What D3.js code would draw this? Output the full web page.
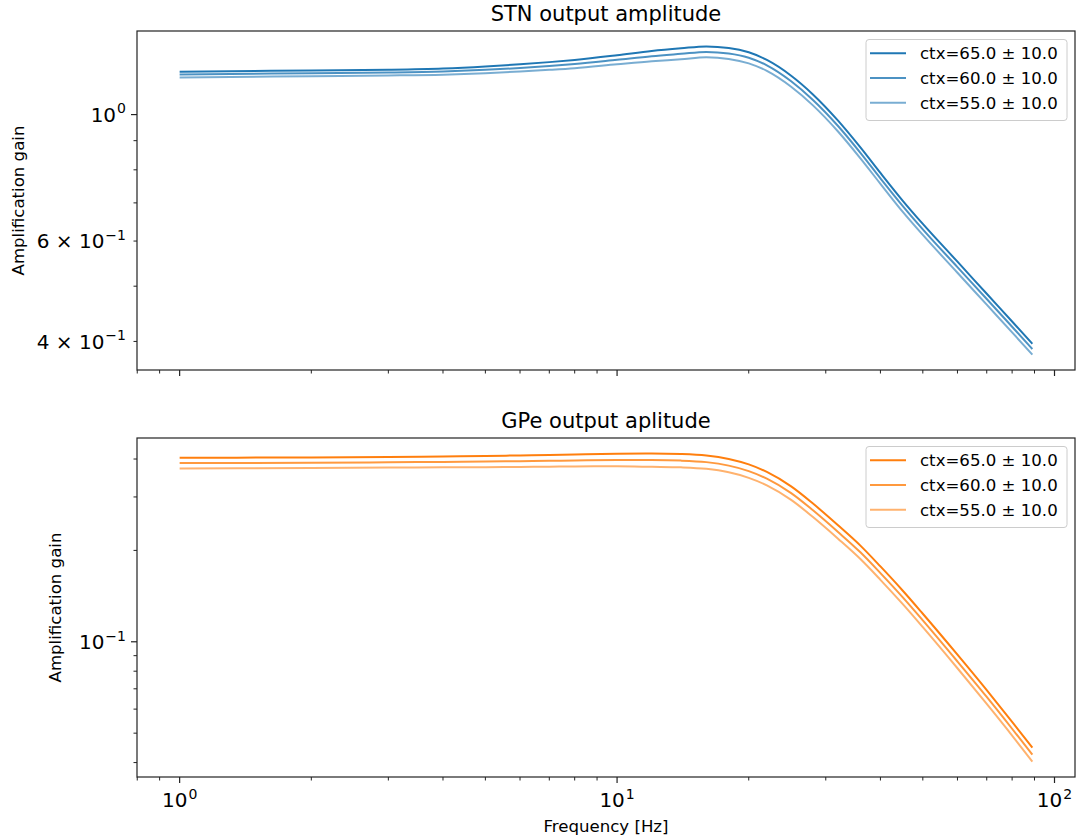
<!DOCTYPE html>
<html><head><meta charset="utf-8">
<script src="https://cdn.jsdelivr.net/npm/d3@7"></script>
<style>body{margin:0;background:#fff} text{font-family:"DejaVu Sans",sans-serif;fill:#000}</style>
</head><body><svg id="chart" width="1077" height="840"></svg>
<script>
// ---- data ----
const freqs = [1,2,3,4,5,6,7,8,10,12,14,16,18,20,22,25,28,32,36,40,45,50,60,70,80,89];
const stn65 = [1.189,1.195,1.198,1.204,1.214,1.225,1.236,1.247,1.271,1.293,1.307,1.317,1.309,1.286,1.247,1.170,1.086,0.976,0.876,0.790,0.706,0.643,0.552,0.4849,0.4335,0.3963];
const stn60 = [1.176,1.182,1.185,1.190,1.198,1.207,1.217,1.227,1.248,1.266,1.278,1.288,1.280,1.258,1.220,1.144,1.062,0.955,0.857,0.773,0.691,0.629,0.540,0.4747,0.4244,0.3880];
const stn55 = [1.162,1.168,1.171,1.175,1.182,1.190,1.198,1.206,1.225,1.240,1.250,1.260,1.252,1.230,1.193,1.119,1.039,0.934,0.838,0.756,0.675,0.615,0.528,0.4640,0.4149,0.3793];
const gpe65 = [0.4039,0.4049,0.4064,0.4080,0.4095,0.4111,0.4126,0.4142,0.4164,0.4174,0.4158,0.4111,0.4003,0.3840,0.3626,0.3249,0.2858,0.2420,0.2074,0.1771,0.1473,0.1237,0.0907,0.0693,0.0545,0.0448];
const gpe60 = [0.3880,0.3889,0.3903,0.3914,0.3924,0.3935,0.3946,0.3957,0.3969,0.3967,0.3952,0.3907,0.3804,0.3650,0.3446,0.3088,0.2716,0.2300,0.1971,0.1683,0.1400,0.1176,0.0861,0.0658,0.0517,0.0425];
const gpe55 = [0.3726,0.3736,0.3749,0.3756,0.3761,0.3768,0.3774,0.3781,0.3784,0.3770,0.3755,0.3713,0.3616,0.3468,0.3275,0.2934,0.2581,0.2186,0.1873,0.1600,0.1330,0.1117,0.0818,0.0624,0.0491,0.0403];
const seriesLabels = ["ctx=65.0 \u00b1 10.0","ctx=60.0 \u00b1 10.0","ctx=55.0 \u00b1 10.0"];
const panelTitles = ["STN output amplitude","GPe output aplitude"];
const xMajorTicks = [1,10,100];
const xTickLabels = [["10","0"],["10","1"],["10","2"]];
const stnYTicks = [0.4,0.6,1];
const stnYTickLabels = [["4 \u00d7 10","\u22121"],["6 \u00d7 10","\u22121"],["10","0"]];
const gpeYTicks = [0.1];
const gpeYTickLabels = [["10","\u22121"]];
const yLabel = "Amplification gain";
const xLabel = "Frequency [Hz]";

// ---- layout ----
const svg = d3.select("#chart");
const L = 137, R = 1075;
const opac = [1, 0.8, 0.6];
function padLog(ext){const a=Math.log10(ext[0]),b=Math.log10(ext[1]),p=(b-a)*0.05;return [10**(a-p),10**(b+p)];}
const x = d3.scaleLog().domain(padLog(d3.extent(freqs))).range([L,R]);

const panels = [
  {top:31,bottom:370,series:[stn65,stn60,stn55],color:"#1f77b4",yt:stnYTicks,ytl:stnYTickLabels,ylx:18,xlabels:false,title:panelTitles[0]},
  {top:438,bottom:777,series:[gpe65,gpe60,gpe55],color:"#ff7f0e",yt:gpeYTicks,ytl:gpeYTickLabels,ylx:55,xlabels:true,title:panelTitles[1]}
];

function minorTicks(dom, exclude){
  const out=[];
  const e0=Math.floor(Math.log10(dom[0])), e1=Math.ceil(Math.log10(dom[1]));
  for(let e=e0;e<=e1;e++) for(let k=1;k<=9;k++){
    const v=k*10**e;
    if(v>=dom[0]&&v<=dom[1]&&!exclude.some(t=>Math.abs(t-v)/v<1e-9)) out.push(v);
  }
  return out;
}
function supLabel(g, parts, fs){
  const t=g.append("text").attr("font-size",fs);
  t.append("tspan").text(parts[0]);
  t.append("tspan").attr("dx",1).attr("dy",-fs*0.42).attr("font-size",fs*0.7).text(parts[1]);
  return t;
}

panels.forEach(p=>{
  const all = p.series.flat();
  const y = d3.scaleLog().domain(padLog(d3.extent(all))).range([p.bottom,p.top]);
  const g = svg.append("g");
  const line = d3.line().x((d,i)=>x(freqs[i])).y(d=>y(d)).curve(d3.curveMonotoneX);
  p.series.slice().reverse().forEach((s,ri)=>{
    const i = p.series.length-1-ri;
    g.append("path").datum(s).attr("d",line).attr("fill","none")
     .attr("stroke",p.color).attr("stroke-opacity",opac[i]).attr("stroke-width",2);
  });
  g.append("rect").attr("x",L).attr("y",p.top).attr("width",R-L).attr("height",p.bottom-p.top)
   .attr("fill","none").attr("stroke","#222").attr("stroke-width",1.2);
  const xd=x.domain();
  xMajorTicks.filter(v=>v>=xd[0]&&v<=xd[1]).forEach(v=>{
    g.append("line").attr("x1",x(v)).attr("x2",x(v)).attr("y1",p.bottom).attr("y2",p.bottom+6).attr("stroke","#222").attr("stroke-width",1.2);
  });
  minorTicks(xd,xMajorTicks).forEach(v=>{
    g.append("line").attr("x1",x(v)).attr("x2",x(v)).attr("y1",p.bottom).attr("y2",p.bottom+3.5).attr("stroke","#222").attr("stroke-width",1);
  });
  if(p.xlabels){
    xMajorTicks.forEach((v,i)=>{
      if(v<xd[0]||v>xd[1]) return;
      supLabel(g,xTickLabels[i],20).attr("x",x(v)).attr("y",p.bottom+30).attr("text-anchor","middle");
    });
    g.append("text").attr("x",(L+R)/2).attr("y",832).attr("text-anchor","middle").attr("font-size",16.6).text(xLabel);
  }
  const yd=y.domain();
  const majors=[];
  for(let e=Math.floor(Math.log10(yd[0]));e<=Math.ceil(Math.log10(yd[1]));e++){const v=10**e;if(v>=yd[0]&&v<=yd[1])majors.push(v);}
  majors.forEach(v=>{
    g.append("line").attr("x1",L-6).attr("x2",L).attr("y1",y(v)).attr("y2",y(v)).attr("stroke","#222").attr("stroke-width",1.2);
  });
  minorTicks(yd,majors).forEach(v=>{
    g.append("line").attr("x1",L-3.5).attr("x2",L).attr("y1",y(v)).attr("y2",y(v)).attr("stroke","#222").attr("stroke-width",1);
  });
  p.yt.forEach((v,i)=>{
    supLabel(g,p.ytl[i],20).attr("x",L-11).attr("y",y(v)+7.2).attr("text-anchor","end");
  });
  g.append("text").attr("transform",`translate(${p.ylx},${(p.top+p.bottom)/2}) rotate(-90)`)
   .attr("text-anchor","middle").attr("dominant-baseline","central").attr("font-size",16.6).text(yLabel);
  g.append("text").attr("x",(L+R)/2).attr("y",p.top-10).attr("text-anchor","middle").attr("font-size",21).text(p.title);
  const lg = g.append("g");
  lg.append("rect").attr("x",866).attr("y",p.top+8.5).attr("width",201).attr("height",81).attr("rx",3)
    .attr("fill","#fff").attr("fill-opacity",0.8).attr("stroke","#ccc").attr("stroke-width",1);
  seriesLabels.forEach((lab,i)=>{
    const ly = p.top+22.3+i*24.7;
    lg.append("line").attr("x1",870).attr("x2",906).attr("y1",ly).attr("y2",ly)
      .attr("stroke",p.color).attr("stroke-opacity",opac[i]).attr("stroke-width",2);
    lg.append("text").attr("x",920).attr("y",ly+6).attr("font-size",16.6).text(lab);
  });
});
</script></body></html>
